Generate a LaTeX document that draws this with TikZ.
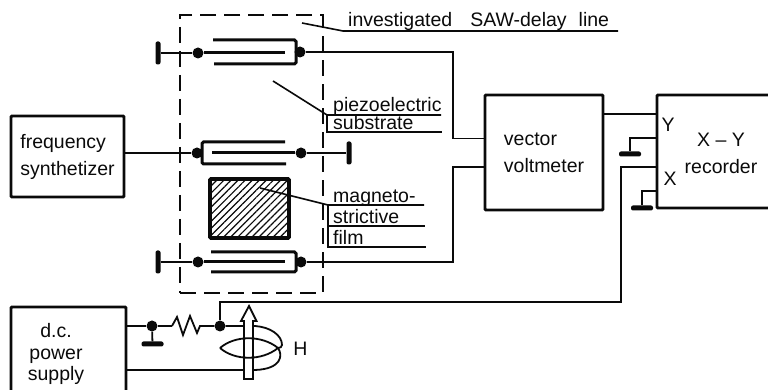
\documentclass[tikz,border=0pt]{standalone}
\usepackage{fontspec}
\setmainfont{Liberation Sans}
\setsansfont{Liberation Sans}
\usetikzlibrary{arrows.meta, positioning, calc, patterns.meta}
\definecolor{InkBlack}{RGB}{10,10,10}
\tikzset{
  every node/.style={font=\sffamily\fontsize{19.5}{27}\selectfont, text=InkBlack},
  wire/.style={line width=1.8pt, InkBlack},
  leader/.style={line width=1.6pt, InkBlack},
  electrode/.style={line width=3pt, InkBlack, rounded corners=1.5pt},
  blockbox/.style={draw=InkBlack, line width=2.9pt, inner sep=0pt, outer sep=0pt,
                   rounded corners=1pt, align=left},
  openbox/.style={line width=2.9pt, InkBlack, rounded corners=1pt},
  frame/.style={draw=InkBlack, line width=2pt, dash pattern=on 16pt off 8pt,
                inner sep=0pt, outer sep=0pt, minimum width=143pt, minimum height=278pt},
  junction/.style={circle, fill=InkBlack, inner sep=0pt, minimum size=11pt},
  stopbar/.style={rectangle, fill=InkBlack, rounded corners=2pt, inner sep=0pt,
                  minimum width=5pt, minimum height=23pt},
  gndbar/.style={rectangle, fill=InkBlack, rounded corners=2pt, inner sep=0pt,
                 minimum width=22pt, minimum height=5pt},
  film/.style={draw=InkBlack, line width=3.6pt, rounded corners=1pt, inner sep=0pt,
               minimum width=79pt, minimum height=59pt,
               pattern={Lines[angle=45,distance=5pt,line width=1.2pt]},
               pattern color=InkBlack},
  tag/.style={anchor=base west, inner sep=0pt}
}
\newcommand{\groundbar}[3]{%
  \node[gndbar] (#1) at (#2,#3) {};
}

\begin{document}
\begin{tikzpicture}[x=1pt,y=1pt]
\useasboundingbox (0,0) rectangle (768,390);

% Dashed outline of the delay line
\node[frame] (dashbox) at (251.5,236) {};

% Blocks
\node[blockbox, minimum width=113pt, minimum height=81pt] (synth) at (67.5,233.5)
  {frequency\\synthetizer};
\node[blockbox, minimum width=118pt, minimum height=115pt] (voltmeter) at (544,237.5)
  {vector\\voltmeter};
\node[inner sep=0pt, outer sep=0pt, minimum width=111pt, minimum height=113pt] (recorder) at (712.5,238.5) {};
\draw[openbox] (recorder.north east) -- (recorder.north west) -- (recorder.south west) -- (recorder.south east);
\node[align=center, inner sep=0pt] (recorderlabel) at (721,237) {X -- Y\\recorder};
\node[inner sep=0pt, outer sep=0pt, minimum width=115pt, minimum height=83pt] (supply) at (68.5,41.5) {};
\draw[openbox] (supply.south west) -- (supply.north west) -- (supply.north east) -- (supply.south east);
\node[align=center, inner sep=0pt, font=\sffamily\fontsize{19.5}{21.5}\selectfont] (supplylabel) at (56,36) {d.c.\\power\\supply};

% Top transducer
\node[stopbar] (stopTop) at (158,337) {};
\node[junction] (dotTopL) at (198,337) {};
\node[junction] (dotTopR) at (300,338) {};
\draw[wire] (stopTop) -- (dotTopL);
\draw[electrode] (dotTopL) -- (285,337);
\draw[electrode] (213,350) -- (296,350) -- (296,326) -- (214,326);

% Middle transducer
\node[junction] (dotMidL) at (197,237) {};
\node[junction] (dotMidR) at (301,237) {};
\node[stopbar] (stopMid) at (349,237) {};
\draw[wire] ([yshift=3.5pt]synth.east) -- (dotMidL);
\draw[wire] (dotMidR) -- (stopMid);
\draw[electrode] (212,237) -- (dotMidR);
\draw[electrode] (285,248) -- (202,248) -- (202,226) -- (286,226);

% Bottom transducer
\node[stopbar] (stopBot) at (158,128) {};
\node[junction] (dotBotL) at (198,128) {};
\node[junction] (dotBotR) at (301,128) {};
\draw[wire] (stopBot) -- (dotBotL);
\draw[electrode] (dotBotL) -- (285,128);
\draw[electrode] (211,138) -- (296,138) -- (296,118) -- (211,118);

% Film
\node[film] (filmbox) at (249.5,181.5) {};

% Wires to the voltmeter and recorder
\draw[wire] (dotTopR) -- (453,338) -- (453,251.5) -- ([yshift=14pt]voltmeter.west);
\draw[wire] (dotBotR) -- (453,128) -- (453,223) -- ([yshift=-14.5pt]voltmeter.west);
\draw[wire] ([yshift=38.5pt]voltmeter.east) -- ([yshift=37.5pt]recorder.west);

% Recorder inputs
\node[inner sep=0pt] (inY) at (668,265) {Y};
\node[inner sep=0pt] (inX) at (670,211) {X};
\groundbar{gndY}{630}{236}
\groundbar{gndX}{642}{182}
\draw[wire] ([yshift=13.5pt]recorder.west) -| (gndY.north);
\draw[wire] ([yshift=-39.5pt]recorder.west) -| (gndX.north);

% Supply side
\node[junction] (dotGnd) at (152,64) {};
\node[junction] (dotCoil) at (220,64) {};
\groundbar{gndDC}{152.5}{46}
\coordinate (resL) at (172,64);
\coordinate (resR) at (200,64);
\draw[wire] ([yshift=22.5pt]supply.east) -- (dotGnd) -- (resL);
\draw[wire] (dotGnd) -- (gndDC);
\draw[wire] (resL) -- (177,73) -- (183,55) -- (190,74) -- (197,57) -- (resR) -- (dotCoil);
\draw[wire] ([yshift=-15.5pt]recorder.west) -- (621,223) -- (621,88) -- (220,88) -- (dotCoil);

% Coil and field arrow
\draw[wire] (dotCoil) -- (255,64) .. controls (270,63) and (282,55) .. (282,45)
  .. controls (282,43) and (280,42) .. (278,42);
\draw[wire] ([yshift=-21.5pt]supply.east) -- (255,20);
\draw[wire, fill=white] (244,11) -- (253,11) -- (253,69) -- (256.5,69) -- (249,84)
  -- (241,69) -- (244,69) -- cycle;
\draw[wire] (220,42) .. controls (235,55) and (262,55) .. (278,42)
  .. controls (262,29) and (235,29) .. (220,42);
\draw[wire] (278,42) .. controls (283,35) and (282,21) .. (255,20);
\node[inner sep=0pt] (fieldH) at (300.5,41) {H};

% Labels with leaders
\node[tag] (lblSAW) at (348,363) {investigated\hspace*{18pt}SAW-delay\hspace*{12pt}line};
\draw[leader] (302,367) -- (343,359) -- (618,359);

\node[tag] (lblPiezoA) at (333,278) {piezoelectric};
\node[tag] (lblPiezoB) at (333,260) {substrate};
\draw[leader] (273,309) -- (327,275) -- (441,275);
\draw[leader] (327,275) -- (327,258) -- (442,258);

\node[tag] (lblMagA) at (333,187) {magneto-};
\node[tag] (lblMagB) at (333,166) {strictive};
\node[tag] (lblMagC) at (333,145) {film};
\draw[leader] (260,202) -- (328,185) -- (424,185);
\draw[leader] (328,185) -- (328,143) -- (426,143);
\draw[leader] (328,164) -- (425,164);

\end{tikzpicture}
\end{document}
